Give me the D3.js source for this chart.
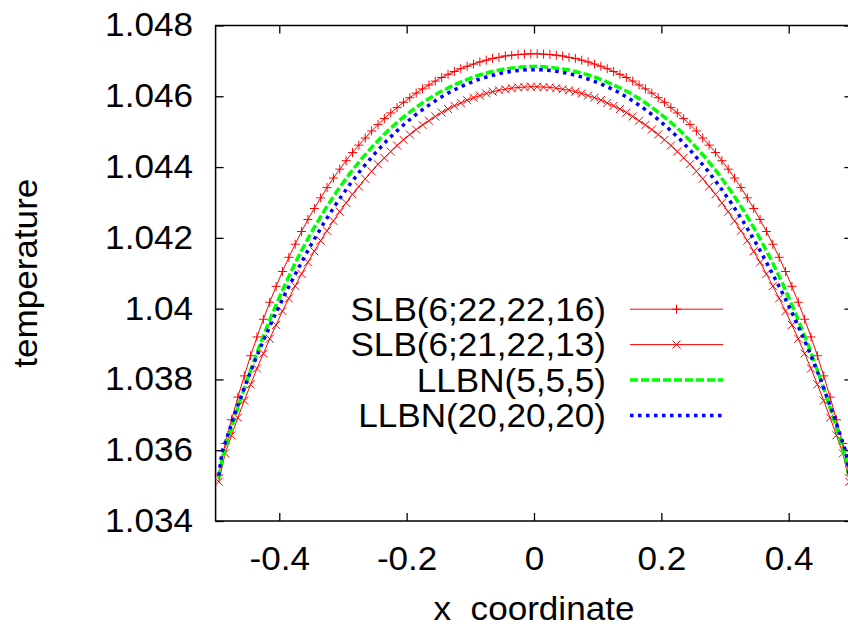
<!DOCTYPE html>
<html>
<head>
<meta charset="utf-8">
<script src="https://cdn.jsdelivr.net/npm/d3@7"></script>
<style>
  body { margin: 0; background: #fff; }
  svg { display: block; }
  text { font-family: "Liberation Sans", Arial, Helvetica, sans-serif; fill: #000; }
</style>
</head>
<body>
<svg id="chart" width="848" height="626"></svg>
<script>
// tick values / labels (gnuplot style)
const xTickVals = [-0.4, -0.2, 0, 0.2, 0.4];
const xTickLabels = ['-0.4', '-0.2', '0', '0.2', '0.4'];
const yTickVals = [1.034, 1.036, 1.038, 1.04, 1.042, 1.044, 1.046, 1.048];
const yTickLabels = ['1.034', '1.036', '1.038', '1.04', '1.042', '1.044', '1.046', '1.048'];

// SLB runs, cell centres
const xSLB = [-0.495, -0.485, -0.475, -0.465, -0.455, -0.445, -0.435, -0.425, -0.415, -0.405,
	-0.395, -0.385, -0.375, -0.365, -0.355, -0.345, -0.335, -0.325, -0.315, -0.305,
	-0.295, -0.285, -0.275, -0.265, -0.255, -0.245, -0.235, -0.225, -0.215, -0.205,
	-0.195, -0.185, -0.175, -0.165, -0.155, -0.145, -0.135, -0.125, -0.115, -0.105,
	-0.095, -0.085, -0.075, -0.065, -0.055, -0.045, -0.035, -0.025, -0.015, -0.005,
	0.005, 0.015, 0.025, 0.035, 0.045, 0.055, 0.065, 0.075, 0.085, 0.095,
	0.105, 0.115, 0.125, 0.135, 0.145, 0.155, 0.165, 0.175, 0.185, 0.195,
	0.205, 0.215, 0.225, 0.235, 0.245, 0.255, 0.265, 0.275, 0.285, 0.295,
	0.305, 0.315, 0.325, 0.335, 0.345, 0.355, 0.365, 0.375, 0.385, 0.395,
	0.405, 0.415, 0.425, 0.435, 0.445, 0.455, 0.465, 0.475, 0.485, 0.495];

const slb1 = [1.03530, 1.03619, 1.03686, 1.03750, 1.03810, 1.03867, 1.03920, 1.03970, 1.04018, 1.04063,
	1.04105, 1.04145, 1.04182, 1.04218, 1.04252, 1.04283, 1.04313, 1.04342, 1.04369, 1.04394,
	1.04418, 1.04441, 1.04462, 1.04482, 1.04502, 1.04520, 1.04537, 1.04553, 1.04568, 1.04583,
	1.04596, 1.04609, 1.04621, 1.04632, 1.04643, 1.04653, 1.04662, 1.04670, 1.04678, 1.04685,
	1.04691, 1.04697, 1.04702, 1.04707, 1.04710, 1.04714, 1.04716, 1.04718, 1.04719, 1.04720,
	1.04720, 1.04719, 1.04718, 1.04716, 1.04714, 1.04710, 1.04707, 1.04702, 1.04697, 1.04691,
	1.04685, 1.04678, 1.04670, 1.04662, 1.04653, 1.04643, 1.04632, 1.04621, 1.04609, 1.04596,
	1.04583, 1.04568, 1.04553, 1.04537, 1.04520, 1.04502, 1.04482, 1.04462, 1.04441, 1.04418,
	1.04394, 1.04369, 1.04342, 1.04313, 1.04283, 1.04252, 1.04218, 1.04182, 1.04145, 1.04105,
	1.04063, 1.04018, 1.03970, 1.03920, 1.03867, 1.03810, 1.03750, 1.03686, 1.03619, 1.03530];

const slb2 = [1.03511, 1.03591, 1.03642, 1.03692, 1.03740, 1.03786, 1.03831, 1.03873, 1.03915, 1.03954,
	1.03993, 1.04029, 1.04064, 1.04098, 1.04131, 1.04162, 1.04192, 1.04220, 1.04248, 1.04274,
	1.04299, 1.04323, 1.04345, 1.04367, 1.04388, 1.04408, 1.04426, 1.04444, 1.04461, 1.04477,
	1.04492, 1.04506, 1.04519, 1.04531, 1.04543, 1.04554, 1.04564, 1.04573, 1.04581, 1.04589,
	1.04596, 1.04602, 1.04608, 1.04613, 1.04617, 1.04620, 1.04623, 1.04625, 1.04626, 1.04627,
	1.04627, 1.04626, 1.04625, 1.04623, 1.04620, 1.04617, 1.04613, 1.04608, 1.04602, 1.04596,
	1.04589, 1.04581, 1.04573, 1.04564, 1.04554, 1.04543, 1.04531, 1.04519, 1.04506, 1.04492,
	1.04477, 1.04461, 1.04444, 1.04426, 1.04408, 1.04388, 1.04367, 1.04345, 1.04323, 1.04299,
	1.04274, 1.04248, 1.04220, 1.04192, 1.04162, 1.04131, 1.04098, 1.04064, 1.04029, 1.03993,
	1.03954, 1.03915, 1.03873, 1.03831, 1.03786, 1.03740, 1.03692, 1.03642, 1.03591, 1.03511];

// LLBN runs
const xLLBN = [-0.495, -0.49, -0.47, -0.45, -0.43, -0.41, -0.39, -0.37, -0.35, -0.33,
	-0.31, -0.29, -0.27, -0.25, -0.23, -0.21, -0.19, -0.17, -0.15, -0.13,
	-0.11, -0.09, -0.07, -0.05, -0.03, -0.01,
	0.01, 0.03, 0.05, 0.07, 0.09, 0.11, 0.13, 0.15, 0.17, 0.19,
	0.21, 0.23, 0.25, 0.27, 0.29, 0.31, 0.33, 0.35, 0.37, 0.39,
	0.41, 0.43, 0.45, 0.47, 0.49, 0.495];

const llbn5 = [1.03521, 1.03574, 1.03693, 1.03801, 1.03900, 1.03990, 1.04072, 1.04147, 1.04214, 1.04275,
	1.04330, 1.04380, 1.04425, 1.04465, 1.04502, 1.04534, 1.04562, 1.04588, 1.04610, 1.04628,
	1.04644, 1.04658, 1.04668, 1.04676, 1.04681, 1.04684,
	1.04684, 1.04681, 1.04676, 1.04668, 1.04658, 1.04644, 1.04628, 1.04610, 1.04588, 1.04562,
	1.04534, 1.04502, 1.04465, 1.04425, 1.04380, 1.04330, 1.04275, 1.04214, 1.04147, 1.04072,
	1.03990, 1.03900, 1.03801, 1.03693, 1.03574, 1.03521];

const llbn20 = [1.03528, 1.03594, 1.03702, 1.03800, 1.03889, 1.03970, 1.04045, 1.04114, 1.04181, 1.04242,
	1.04298, 1.04349, 1.04396, 1.04438, 1.04477, 1.04511, 1.04542, 1.04569, 1.04593, 1.04614,
	1.04631, 1.04646, 1.04657, 1.04666, 1.04672, 1.04675,
	1.04675, 1.04672, 1.04666, 1.04657, 1.04646, 1.04631, 1.04614, 1.04593, 1.04569, 1.04542,
	1.04511, 1.04477, 1.04438, 1.04396, 1.04349, 1.04298, 1.04242, 1.04181, 1.04114, 1.04045,
	1.03970, 1.03889, 1.03800, 1.03702, 1.03594, 1.03528];

const seriesNames = ['SLB(6;22,22,16)', 'SLB(6;21,22,13)', 'LLBN(5,5,5)', 'LLBN(20,20,20)'];

const FONT = 32.5;
const STRETCH = 1.08; // the original font runs a bit wider than Liberation Sans

const svg = d3.select('#chart');

const plot = { left: 215.6, right: 852.4, top: 25.5, bottom: 521 };

const x = d3.scaleLinear().domain([-0.5, 0.5]).range([plot.left, plot.right]);
const y = d3.scaleLinear().domain([1.034, 1.048]).range([plot.bottom, plot.top]);

//axes, ticks pointing inwards on all four sides
function styleAxis(g) {
	g.select('.domain').remove();
	g.selectAll('.tick line').attr('stroke', '#000').attr('stroke-width', 1.3);
	g.selectAll('.tick text')
		.style('font-size', FONT + 'px')
		.attr('transform', `scale(${STRETCH},1)`);
}

svg.append('g')
	.attr('transform', `translate(0,${plot.bottom})`)
	.call(d3.axisBottom(x).tickValues(xTickVals).tickSize(-8).tickPadding(26)
		.tickFormat((d, i) => xTickLabels[i]))
	.call(styleAxis);

svg.append('g')
	.attr('transform', `translate(0,${plot.top})`)
	.call(d3.axisTop(x).tickValues(xTickVals).tickSize(-8).tickFormat(''))
	.call(styleAxis);

svg.append('g')
	.attr('transform', `translate(${plot.left},0)`)
	.call(d3.axisLeft(y).tickValues(yTickVals).tickSize(-8).tickPadding(21)
		.tickFormat((d, i) => yTickLabels[i]))
	.call(styleAxis);

svg.append('g')
	.attr('transform', `translate(${plot.right},0)`)
	.call(d3.axisRight(y).tickValues(yTickVals).tickSize(-8).tickFormat(''))
	.call(styleAxis);

// frame
svg.append('rect')
	.attr('x', plot.left)
	.attr('y', plot.top)
	.attr('width', plot.right - plot.left)
	.attr('height', plot.bottom - plot.top)
	.attr('fill', 'none')
	.attr('stroke', '#000')
	.attr('stroke-width', 1.5);

// axis titles
svg.append('text')
	.attr('transform', `translate(${(plot.left + plot.right) / 2},620) scale(${STRETCH},1)`)
	.attr('text-anchor', 'middle')
	.style('font-size', FONT + 'px')
	.style('white-space', 'pre')
	.text('x  coordinate');

svg.append('text')
	.attr('transform', `translate(37,${(plot.top + plot.bottom) / 2}) rotate(-90) scale(${STRETCH},1)`)
	.attr('text-anchor', 'middle')
	.style('font-size', FONT + 'px')
	.text('temperature');

const line = d3.line()
	.x(d => x(d[0]))
	.y(d => y(d[1]));

const plusPath = 'M-4.5,0H4.5M0,-4.5V4.5';
const crossPath = 'M-4,-4L4,4M-4,4L4,-4';

const series = [
	{ name: seriesNames[0], data: d3.zip(xSLB, slb1), color: '#ff0000', width: 1, dash: null, marker: plusPath },
	{ name: seriesNames[1], data: d3.zip(xSLB, slb2), color: '#ff0000', width: 1, dash: null, marker: crossPath },
	{ name: seriesNames[2], data: d3.zip(xLLBN, llbn5), color: '#00ff00', width: 3.5, dash: '8,3', marker: null },
	{ name: seriesNames[3], data: d3.zip(xLLBN, llbn20), color: '#0000ff', width: 3.5, dash: '3.5,4.5', marker: null }
];

series.forEach(s => {
	svg.append('path')
		.datum(s.data)
		.attr('d', line)
		.attr('fill', 'none')
		.attr('stroke', s.color)
		.attr('stroke-width', s.width)
		.attr('stroke-dasharray', s.dash);

	if (s.marker) {
		svg.append('g')
			.selectAll('path')
			.data(s.data)
			.join('path')
			.attr('transform', d => `translate(${x(d[0])},${y(d[1])})`)
			.attr('d', s.marker)
			.attr('fill', 'none')
			.attr('stroke', s.color)
			.attr('stroke-width', 1);
	}
});

// key
const key = svg.append('g');
series.forEach((s, i) => {
	const cy = 309.2 + i * 35.4;
	key.append('text')
		.attr('transform', `translate(606,${cy + 11.6}) scale(${STRETCH},1)`)
		.attr('text-anchor', 'end')
		.style('font-size', FONT + 'px')
		.text(s.name);
	key.append('line')
		.attr('x1', 630).attr('x2', 723)
		.attr('y1', cy).attr('y2', cy)
		.attr('stroke', s.color)
		.attr('stroke-width', s.width)
		.attr('stroke-dasharray', s.dash);
	if (s.marker) {
		key.append('path')
			.attr('transform', `translate(676.5,${cy})`)
			.attr('d', s.marker)
			.attr('fill', 'none')
			.attr('stroke', s.color)
			.attr('stroke-width', 1);
	}
});
</script>
</body>
</html>
